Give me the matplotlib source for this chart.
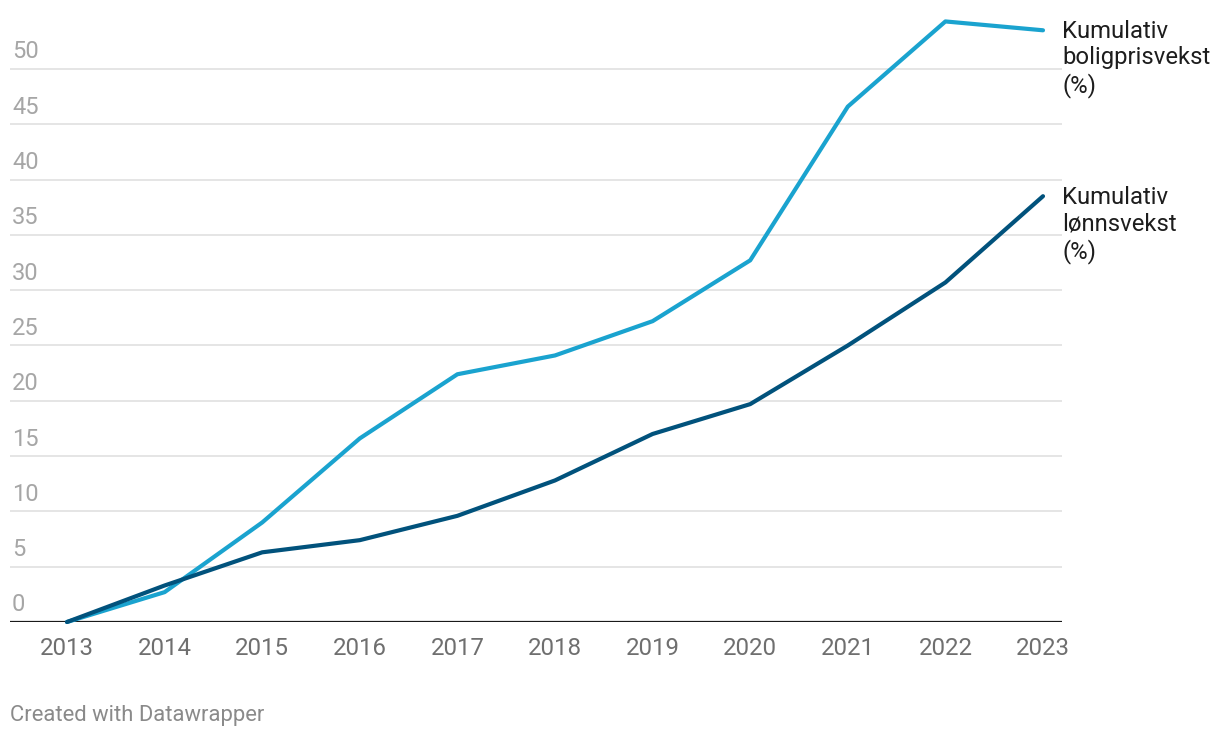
import matplotlib.pyplot as plt
from matplotlib.transforms import offset_copy

plt.rcParams['font.family'] = ['Roboto', 'DejaVu Sans']

# Data
years = [2013, 2014, 2015, 2016, 2017, 2018, 2019, 2020, 2021, 2022, 2023]
boligpris = [0, 2.7, 9.0, 16.6, 22.4, 24.1, 27.2, 32.7, 46.6, 54.3, 53.5]
lonn = [0, 3.3, 6.3, 7.4, 9.6, 12.8, 17.0, 19.7, 25.0, 30.7, 38.5]
yticks = [0, 5, 10, 15, 20, 25, 30, 35, 40, 45, 50]
series_labels = ['Kumulativ\nboligprisvekst\n(%)', 'Kumulativ\nlønnsvekst\n(%)']

light = '#1aa3cf'
dark = '#01527c'

W, H = 1220, 738
fig = plt.figure(figsize=(W / 100, H / 100), dpi=100)
ax = fig.add_axes([10 / W, 116 / H, 1052 / W, 612 / H])

ax.set_xlim(2013 - 57 / 97.6, 2023 + 19 / 97.6)
ax.set_ylim(0, 612 / 11.06)

# grid lines and y labels sitting above them
lab_tr = offset_copy(ax.get_yaxis_transform(), fig=fig, x=0, y=4, units='points')
for t in yticks:
    if t > 0:
        ax.axhline(t, color='#e3e3e3', lw=1.3, zorder=1)
    ax.text(0.002, t, str(t), transform=lab_tr,
            ha='left', va='bottom', fontsize=17, color='#a6a6a6')
ax.axhline(0, color='#1a1a1a', lw=1.6, zorder=3)

ax.plot(years, boligpris, color=light, lw=3, zorder=4, clip_on=False,
        solid_joinstyle='round', solid_capstyle='round')
ax.plot(years, lonn, color=dark, lw=3, zorder=5, clip_on=False,
        solid_joinstyle='round', solid_capstyle='round')

for vals, lab in zip([boligpris, lonn], series_labels):
    ax.annotate(lab, xy=(years[-1], vals[-1]), xytext=(14, 7.5),
                textcoords='offset points', ha='left', va='top',
                fontsize=17.2, color='#1d1d1d', linespacing=1.2,
                annotation_clip=False)

ax.set_yticks([])
ax.set_xticks(years)
ax.set_xticklabels([str(y) for y in years], fontsize=17.3, color='#6f6f6f')
ax.tick_params(axis='x', length=0, pad=11)
for s in ax.spines.values():
    s.set_visible(False)

fig.text(10 / W, 1 - 715 / H, 'Created with Datawrapper', fontsize=15.8,
         color='#8a8a8a', ha='left', va='center')

fig.savefig('out.png', dpi=100)
